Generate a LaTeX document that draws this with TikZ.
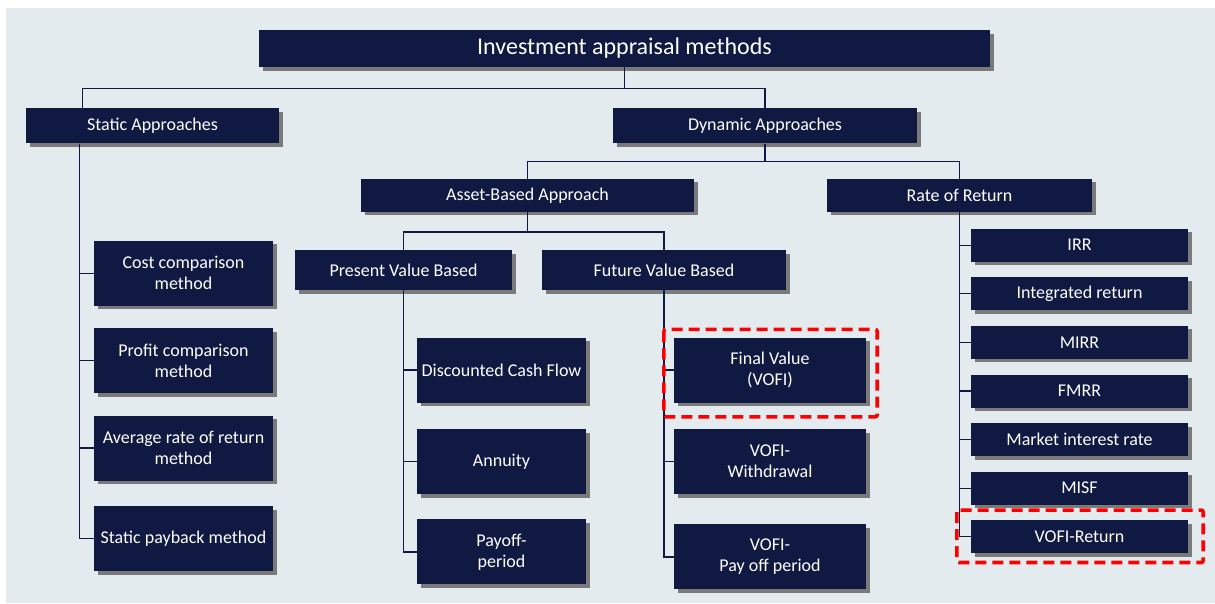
\documentclass[tikz,border=0pt]{standalone}
\usepackage{fontspec}
\setmainfont{Carlito}
\usepackage{xcolor}
\usepackage{tikz}
\usetikzlibrary{positioning, shadows}

\definecolor{boxnavy}{RGB}{16,25,66}
\definecolor{panelgray}{RGB}{228,235,239}
\definecolor{shadowgray}{RGB}{122,122,122}
\definecolor{markred}{RGB}{255,0,0}

\begin{document}
\begin{tikzpicture}[node distance=20pt, >=latex]
        \tikzstyle{block} = [rectangle, inner sep=0pt, align=center, text=white, fill=boxnavy, font=\fontsize{18}{21}\selectfont, drop shadow={shadow xshift=3.5pt, shadow yshift=-3.5pt, fill=shadowgray, opacity=1}]
        \tikzstyle{staticitem} = [block, minimum width=179pt, minimum height=65pt]
        \tikzstyle{pvitem} = [block, minimum width=169pt, minimum height=65pt]
        \tikzstyle{fvitem} = [block, minimum width=192pt, minimum height=65pt]
        \tikzstyle{rateitem} = [block, minimum width=217pt, minimum height=33pt]
        \tikzstyle{link} = [line width=1.3pt, draw=boxnavy]
        \tikzstyle{highlight} = [draw=markred, line width=3.6pt, dash pattern=on 11pt off 6pt, rounded corners=2pt]

        % Panel
        \useasboundingbox (0,0) rectangle (1215pt,-603pt);
        \fill [panelgray] (6pt,-8pt) rectangle (1215pt,-603pt);

        % Top
        \node (title) [block, minimum width=731pt, minimum height=37pt, font=\fontsize{24}{28}\selectfont] at (624.5pt,-48.5pt) {Investment appraisal methods};

        % Static vs. dynamic
        \node (static) [block, minimum width=253pt, minimum height=35pt, below=41pt of title, xshift=-472pt] {Static Approaches};
        \node (dynamic) [block, minimum width=304pt, minimum height=35pt, below=41pt of title, xshift=140.5pt] {Dynamic Approaches};

        % Dynamic branches
        \node (asset) [block, minimum width=333pt, minimum height=33pt, below=35pt of dynamic, xshift=-237.5pt] {Asset-Based Approach};
        \node (rate) [block, minimum width=265pt, minimum height=33pt, below=35pt of dynamic, xshift=194.5pt] {Rate of Return};
        \node (pv) [block, minimum width=217pt, minimum height=40pt, below=38pt of asset, xshift=-124pt] {Present Value Based};
        \node (fv) [block, minimum width=244pt, minimum height=40pt, below=38pt of asset, xshift=136.5pt] {Future Value Based};

        % Static methods
        \node (cost) [staticitem, below=97pt of static, xshift=31pt] {Cost comparison\\method};
        \node (profit) [staticitem, below=22pt of cost] {Profit comparison\\method};
        \node (average) [staticitem, below=22pt of profit] {Average rate of return\\method};
        \node (payback) [staticitem, below=25pt of average] {Static payback method};

        % Present value methods
        \node (dcf) [pvitem, below=47pt of pv, xshift=98pt] {Discounted Cash Flow};
        \node (annuity) [pvitem, below=26pt of dcf] {Annuity};
        \node (payoff) [pvitem, below=25pt of annuity] {Payoff-\\period};

        % Future value methods
        \node (final) [fvitem, below=47pt of fv, xshift=106pt] {Final Value\\(VOFI)};
        \node (withdrawal) [fvitem, below=26pt of final] {VOFI-\\Withdrawal};
        \node (vofipay) [fvitem, below=30pt of withdrawal] {VOFI-\\Pay off period};

        % Rate of return methods
        \node (irr) [rateitem, below=16.5pt of rate, xshift=120pt] {IRR};
        \node (integrated) [rateitem, below=15.2pt of irr] {Integrated return};
        \node (mirr) [rateitem, below=15.2pt of integrated] {MIRR};
        \node (fmrr) [rateitem, below=15.2pt of mirr] {FMRR};
        \node (market) [rateitem, below=15.2pt of fmrr] {Market interest rate};
        \node (misf) [rateitem, below=15.2pt of market] {MISF};
        \node (vofireturn) [rateitem, below=15.2pt of misf] {VOFI-Return};

        % Tree lines
        \draw [link] (title.south) -- ++(0,-21pt) -| ([xshift=57pt]static.north west);
        \draw [link] (title.south) -- ++(0,-21pt) -| (dynamic.north);
        \draw [link] (dynamic.south) -- ++(0,-18pt) -| (asset.north);
        \draw [link] (dynamic.south) -- ++(0,-18pt) -| (rate.north);
        \draw [link] (asset.south) -- ++(0,-20pt) -| (pv.north);
        \draw [link] (asset.south) -- ++(0,-20pt) -| (fv.north);

        \draw [link] ([xshift=54pt]static.south west) |- (cost.west);
        \draw [link] ([xshift=54pt]static.south west) |- (profit.west);
        \draw [link] ([xshift=54pt]static.south west) |- (average.west);
        \draw [link] ([xshift=54pt]static.south west) |- (payback.west);

        \draw [link] (pv.south) |- (dcf.west);
        \draw [link] (pv.south) |- (annuity.west);
        \draw [link] (pv.south) |- (payoff.west);

        \draw [link] (fv.south) |- (final.west);
        \draw [link] (fv.south) |- (withdrawal.west);
        \draw [link] (fv.south) |- (vofipay.west);

        \draw [link] (rate.south) |- (irr.west);
        \draw [link] (rate.south) |- (integrated.west);
        \draw [link] (rate.south) |- (mirr.west);
        \draw [link] (rate.south) |- (fmrr.west);
        \draw [link] (rate.south) |- (market.west);
        \draw [link] (rate.south) |- (misf.west);
        \draw [link] (rate.south) |- (vofireturn.west);

        % Marked methods
        \draw [highlight] ([shift={(-10pt,8pt)}]final.north west) rectangle ([shift={(11pt,-14pt)}]final.south east);
        \draw [highlight] ([shift={(-14pt,10pt)}]vofireturn.north west) rectangle ([shift={(15pt,-9pt)}]vofireturn.south east);
    \end{tikzpicture}
\end{document}
